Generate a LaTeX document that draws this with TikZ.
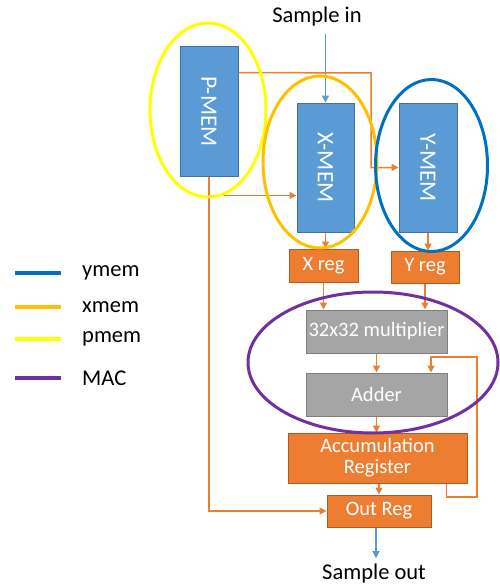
\documentclass[tikz,border=0pt]{standalone}
\usepackage{fontspec}
\setmainfont{Carlito}
\usetikzlibrary{arrows.meta,calc}

\definecolor{memblue}{HTML}{5B9BD5}
\definecolor{memedge}{HTML}{41719C}
\definecolor{regorange}{HTML}{ED7D31}
\definecolor{regedge}{HTML}{AE5A21}
\definecolor{alugray}{HTML}{A5A5A5}
\definecolor{aluedge}{HTML}{7F7F7F}
\definecolor{ringyellow}{HTML}{FFFF00}
\definecolor{ringorange}{HTML}{FFC000}
\definecolor{ringblue}{HTML}{0070C0}
\definecolor{ringpurple}{HTML}{7030A0}

\tikzset{
  membox/.style={draw=memedge, fill=memblue, line width=1pt, inner sep=0pt,
    text=white, font=\fontsize{23.5}{27}\selectfont},
  regbox/.style={draw=regedge, fill=regorange, line width=1pt, inner sep=0pt,
    text=white, font=\fontsize{20.5}{21}\selectfont},
  alubox/.style={draw=aluedge, fill=alugray, line width=1pt, inner sep=0pt,
    text=white, font=\fontsize{20.5}{21}\selectfont},
  wire/.style={draw=regorange, line width=1.5pt},
  flow/.style={wire, -{Triangle[length=7pt,width=7pt]}},
  ioflow/.style={draw=memblue, line width=1.5pt, -{Triangle[length=7pt,width=7pt]}},
  iolabel/.style={font=\fontsize{22.5}{26}\selectfont, text=black, inner sep=0pt},
  ring/.style={line width=3pt},
  keyline/.style={line width=3.5pt},
  keytext/.style={font=\fontsize{22.5}{26}\selectfont, anchor=west, inner sep=0pt},
}

\begin{document}
\begin{tikzpicture}[x=1pt, y=-1pt]
  \useasboundingbox (0,0) rectangle (499,586);

  % memories
  \node[membox, minimum width=58pt, minimum height=129pt] (pmem) at (209,111.5)
    {\rotatebox{-90}{P-MEM}};
  \node[membox, minimum width=57pt, minimum height=129pt] (xmem) at (325.5,167.5)
    {\rotatebox{-90}{X-MEM}};
  \node[membox, minimum width=58pt, minimum height=129pt] (ymem) at (428,167.5)
    {\rotatebox{-90}{Y-MEM}};

  % registers and arithmetic
  \node[regbox, minimum width=69pt, minimum height=33pt] (xreg) at (323.5,265.5) {X reg};
  \node[regbox, minimum width=68pt, minimum height=32pt] (yreg) at (425,267) {Y reg};
  \node[alubox, minimum width=141pt, minimum height=43pt] (mult) at (376.5,331.5) {32x32 multiplier};
  \node[alubox, minimum width=141pt, minimum height=43pt] (adder) at (376.5,394.5) {Adder};
  \node[regbox, minimum width=179pt, minimum height=50pt, align=center] (acc) at (377.5,458)
    {Accumulation\\Register};
  \node[regbox, minimum width=104pt, minimum height=32pt] (outreg) at (379,511) {Out Reg};

  % input / output labels
  \node[iolabel] (sin) at (317,17) {Sample in};
  \node[iolabel] (sout) at (374,573) {Sample out};

  % routing points
  \coordinate (ptop) at ($(pmem.north east)+(0,26)$);
  \coordinate (pturn) at (371,73);
  \coordinate (pbranch) at ($(pmem.south)+(0,19)$);
  \coordinate (fbdown) at (477,497);
  \coordinate (fbtop) at (431,357);

  % data paths
  \draw[ioflow] (sin.south -| xmem.north) ++(0,7) -- (xmem.north);
  \draw[flow] (ptop) -- (pturn) |- (ymem.west);
  \draw[wire] (pmem.south) -- (pbranch);
  \draw[flow] (pbranch) -- (pbranch -| xmem.west);
  \draw[flow] (pbranch) |- (outreg.west);
  \draw[flow] (xmem.south) -- (xmem.south |- xreg.north);
  \draw[flow] (ymem.south) -- (ymem.south |- yreg.north);
  \draw[flow] (xreg.south) -- (xreg.south |- mult.north);
  \draw[flow] (yreg.south) -- (yreg.south |- mult.north);
  \draw[flow] (mult.south) -- (adder.north);
  \draw[flow] (adder.south) -- (adder.south |- acc.north);
  \draw[flow] (acc.south -| outreg.north) -- (outreg.north);
  \draw[flow] ([xshift=-21pt]acc.south east) |- (fbdown) |- (fbtop) -- (fbtop |- adder.north);
  \draw[ioflow] ([xshift=-3pt]outreg.south) -- ([xshift=-3pt,yshift=5pt]outreg.south |- sout.north);

  % grouping rings
  \draw[ring, ringyellow] (208,110) ellipse [x radius=58, y radius=87];
  \draw[ring, ringorange] (320,162) ellipse [x radius=57, y radius=86];
  \draw[ring, ringblue] (431.5,165.5) ellipse [x radius=56, y radius=86];
  \draw[ring, ringpurple] (373,362.5) ellipse [x radius=125, y radius=70.5];

  % key
  \coordinate (k1) at (15,273);
  \coordinate (k2) at (15,307);
  \coordinate (k3) at (15,339);
  \coordinate (k4) at (15,378);
  \draw[keyline, ringblue] (k1) -- ++(46,0);
  \draw[keyline, ringorange] (k2) -- ++(46,0);
  \draw[keyline, ringyellow] (k3) -- ++(46,0);
  \draw[keyline, ringpurple] (k4) -- ++(46,0);
  \node[keytext] (t1) at ($(k1)+(67,0)$) {ymem};
  \node[keytext] (t2) at ($(k2)+(67,0)$) {xmem};
  \node[keytext] (t3) at ($(k3)+(67,0)$) {pmem};
  \node[keytext] (t4) at ($(k4)+(67,0)$) {MAC};
\end{tikzpicture}
\end{document}
